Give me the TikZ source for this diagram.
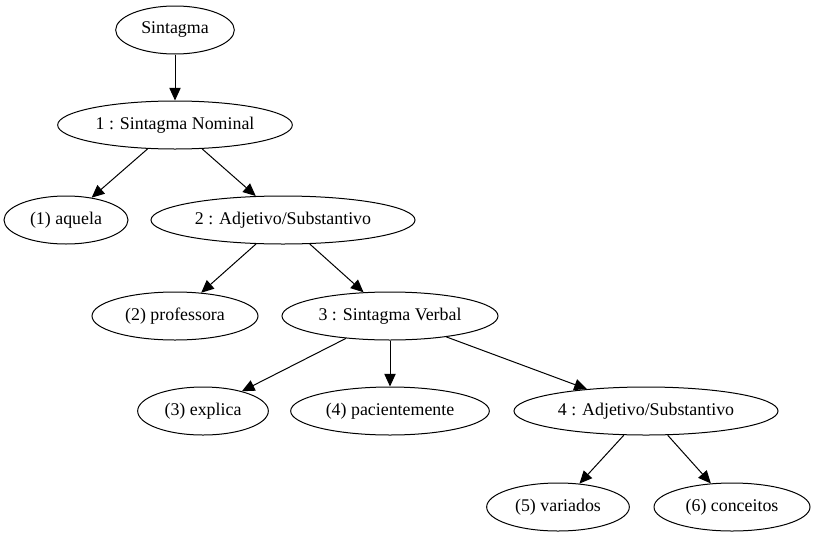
\documentclass[tikz,border=0pt]{standalone}
\usepackage{fontspec}
\setmainfont{Liberation Serif}
\usetikzlibrary{shapes.geometric,arrows.meta}
\begin{document}
\begin{tikzpicture}[x=0.75pt,y=-0.75pt,
  nd/.style={draw,ellipse,inner sep=0pt,minimum height=36pt,line width=0.75pt,font=\fontsize{13.4pt}{15pt}\selectfont},
  ed/.style={-{Triangle[length=9.5pt,width=8.5pt]},line width=0.75pt}]
\useasboundingbox (0,0) rectangle (816,539);
\node[nd,minimum width=89pt] (s) at (175,30) {Sintagma};
\node[nd,minimum width=176pt] (n1) at (175,125) {1 : Sintagma Nominal};
\node[nd,minimum width=93pt] (a) at (66,220) {(1) aquela};
\node[nd,minimum width=198pt] (n2) at (283,220) {2 : Adjetivo/Substantivo};
\node[nd,minimum width=124.5pt] (p) at (175,316) {(2) professora};
\node[nd,minimum width=162pt] (n3) at (390,316) {3 : Sintagma Verbal};
\node[nd,minimum width=98pt] (e) at (203,411) {(3) explica};
\node[nd,minimum width=149pt] (pc) at (390,411) {(4) pacientemente};
\node[nd,minimum width=198pt] (n4) at (646,411) {4 : Adjetivo/Substantivo};
\node[nd,minimum width=107pt] (v) at (558,507) {(5) variados};
\node[nd,minimum width=117pt] (c) at (732,507) {(6) conceitos};
\draw[ed] (s) -- (n1);
\draw[ed] (n1) -- (a);
\draw[ed] (n1) -- (n2);
\draw[ed] (n2) -- (p);
\draw[ed] (n2) -- (n3);
\draw[ed] (n3) -- (e);
\draw[ed] (n3) -- (pc);
\draw[ed] (n3) -- (n4);
\draw[ed] (n4) -- (v);
\draw[ed] (n4) -- (c);
\end{tikzpicture}
\end{document}
